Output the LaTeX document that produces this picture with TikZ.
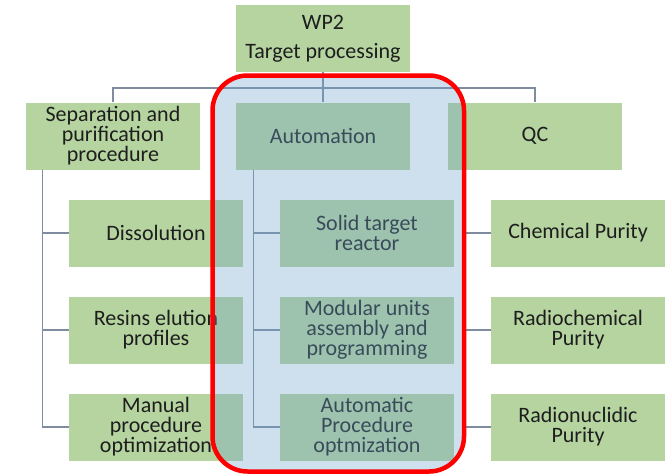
\documentclass[tikz,border=0pt]{standalone}
\usepackage{fontspec}
\setmainfont{Carlito}
\usepackage{tikz}
\definecolor{boxgreen}{RGB}{181,212,160}
\definecolor{linegray}{RGB}{127,140,160}
\definecolor{textgray}{RGB}{30,30,30}
\definecolor{markblue}{RGB}{111,164,205}

\begin{document}
\begin{tikzpicture}[x=1pt,y=-1pt,
  wpbox/.style={rectangle,fill=boxgreen,minimum width=174pt,minimum height=67pt,inner sep=2pt,
    align=center,text=textgray,font=\fontsize{22}{20}\selectfont},
  link/.style={draw=linegray,line width=1.3pt}]
\useasboundingbox (0,0) rectangle (667,475);
\path (323,38.5) node(wp)[wpbox]{WP2\\[9pt]Target processing}
(113,136) node(sep)[wpbox]{Separation and\\ purification\\ procedure}
(323,136) node(auto)[wpbox]{Automation}
(535,136) node(qc)[wpbox]{QC}
(156,233) node(dis)[wpbox]{Dissolution}
(156,330) node(res)[wpbox]{Resins elution\\ profiles}
(156,427) node(man)[wpbox]{Manual\\ procedure\\ optimization}
(367,233) node(sol)[wpbox]{Solid target\\ reactor}
(367,330) node(mod)[wpbox]{Modular units\\ assembly and\\ programming}
(367,427) node(aut)[wpbox]{Automatic\\ Procedure\\ optmization}
(578,233) node(chem)[wpbox]{Chemical Purity}
(578,330) node(rch)[wpbox]{Radiochemical\\ Purity}
(578,427) node(rnu)[wpbox]{Radionuclidic\\ Purity};
\coordinate (hub) at (323,88);
\draw[link](wp.south)--(auto.north);
\draw[link](sep.north)|-(hub)-|(qc.north);
\draw[link]([xshift=17pt]sep.south west)|-(dis.west);
\draw[link]([xshift=17pt]sep.south west)|-(res.west);
\draw[link]([xshift=17pt]sep.south west)|-(man.west);
\draw[link]([xshift=18pt]auto.south west)|-(sol.west);
\draw[link]([xshift=18pt]auto.south west)|-(mod.west);
\draw[link]([xshift=18pt]auto.south west)|-(aut.west);
\draw[link]([xshift=16pt]qc.south west)|-(chem.west);
\draw[link]([xshift=16pt]qc.south west)|-(rch.west);
\draw[link]([xshift=16pt]qc.south west)|-(rnu.west);
%highlight of the automation branch
\draw[red,line width=4.5pt,fill=markblue,fill opacity=0.34,rounded corners=35pt](212.5,75.5) rectangle (464,471.5);
\end{tikzpicture}
\end{document}
